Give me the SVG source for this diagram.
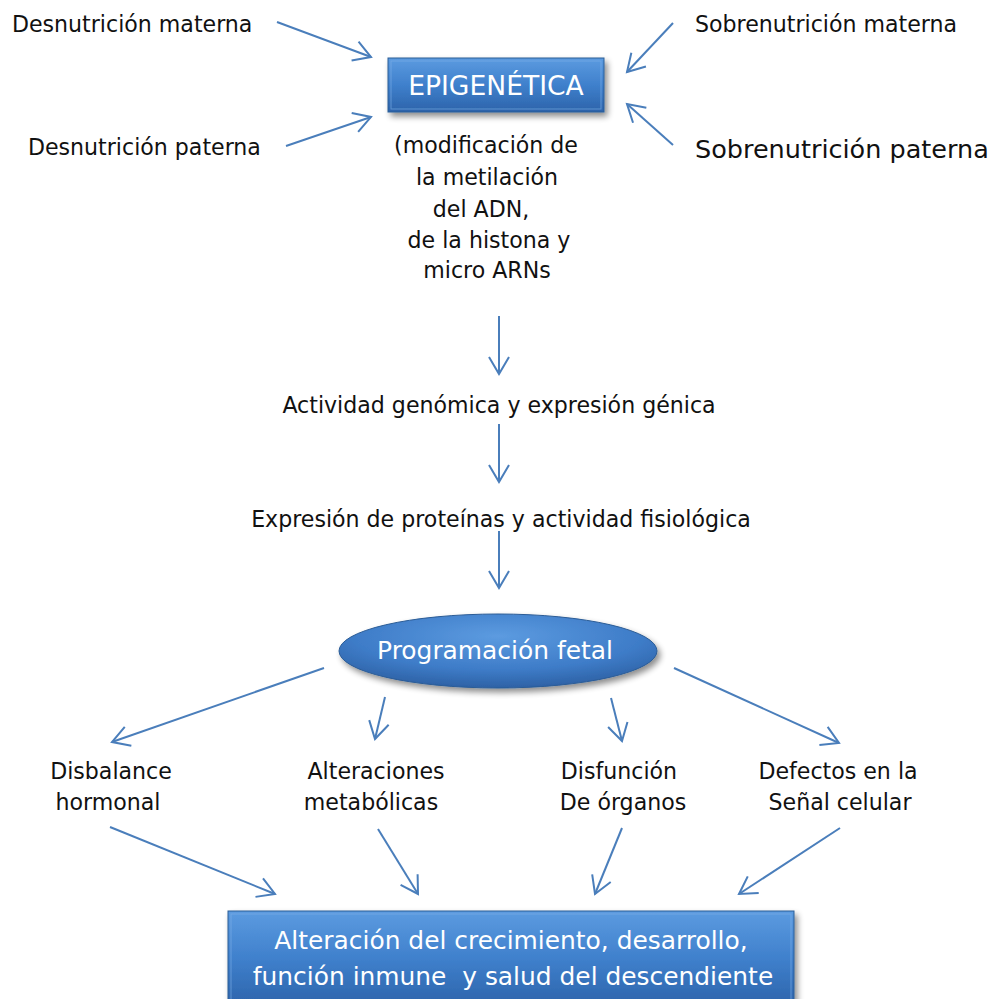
<svg xmlns="http://www.w3.org/2000/svg" width="996" height="999" viewBox="0 0 996 999">
<defs>
<style>
.t{font-family:"DejaVu Sans",sans-serif;font-size:22.1px;fill:#111;}
.w{font-family:"DejaVu Sans",sans-serif;fill:#fff;}
.c{fill:none;stroke:#4A7EBB;stroke-width:2;marker-end:url(#ah);}
</style>
<linearGradient id="g" x1="0" y1="0" x2="0" y2="1">
<stop offset="0" stop-color="#5C9BE0"/>
<stop offset="0.5" stop-color="#3F80CC"/>
<stop offset="1" stop-color="#2C63AA"/>
</linearGradient>
<radialGradient id="ge" cx="0.5" cy="0.3" r="0.75">
<stop offset="0" stop-color="#5C9BE0"/>
<stop offset="0.6" stop-color="#3E7CC8"/>
<stop offset="1" stop-color="#2A5C9E"/>
</radialGradient>
<filter id="sh" x="-10%" y="-20%" width="125%" height="150%">
<feGaussianBlur in="SourceAlpha" stdDeviation="3"/>
<feOffset dx="3" dy="4"/>
<feComponentTransfer><feFuncA type="linear" slope="0.45"/></feComponentTransfer>
<feMerge><feMergeNode/><feMergeNode in="SourceGraphic"/></feMerge>
</filter>
<marker id="ah" markerUnits="userSpaceOnUse" markerWidth="30" markerHeight="30" refX="0" refY="0" viewBox="-20 -15 25 30" orient="auto">
<path d="M-17,-10 L0,0 L-17,10" fill="none" stroke="#4A7EBB" stroke-width="2"/>
</marker>
</defs>
<rect width="996" height="999" fill="#fff"/>

<g id="desnutricion-materna"><text class="t" x="12" y="32">Desnutrición materna</text></g>
<g id="sobrenutricion-materna"><text class="t" x="695" y="32">Sobrenutrición materna</text></g>
<g id="desnutricion-paterna"><text class="t" x="28" y="155">Desnutrición paterna</text></g>
<g id="sobrenutricion-paterna"><text class="t" x="695" y="158" style="font-size:25.5px">Sobrenutrición paterna</text></g>

<g id="epigenetica">
<rect x="388" y="58" width="216" height="54" fill="url(#g)" stroke="#2B5C96" stroke-width="1" filter="url(#sh)"/>
<rect x="391" y="61" width="210" height="48" fill="none" stroke="#7FB0E8" stroke-width="1" opacity="0.6"/>
<text class="w" x="496" y="95" text-anchor="middle" font-size="26.6">EPIGENÉTICA</text>
</g>

<g id="modificacion">
<text class="t" x="486" y="153" text-anchor="middle">(modificación de</text>
<text class="t" x="487" y="185" text-anchor="middle">la metilación</text>
<text class="t" x="481" y="217" text-anchor="middle">del ADN,</text>
<text class="t" x="489" y="248" text-anchor="middle">de la histona y</text>
<text class="t" x="487" y="278" text-anchor="middle">micro ARNs</text>
</g>

<g id="actividad-genomica"><text class="t" x="499" y="413" text-anchor="middle">Actividad genómica y expresión génica</text></g>
<g id="expresion-proteinas"><text class="t" x="501" y="527" text-anchor="middle">Expresión de proteínas y actividad fisiológica</text></g>

<g id="programacion-fetal">
<ellipse cx="498" cy="651" rx="159" ry="37" fill="url(#ge)" stroke="#2B5C96" stroke-width="1" filter="url(#sh)"/>
<text class="w" x="495" y="659" text-anchor="middle" font-size="24.9">Programación fetal</text>
</g>

<g id="disbalance">
<text class="t" x="111" y="779" text-anchor="middle">Disbalance</text>
<text class="t" x="108" y="810" text-anchor="middle">hormonal</text>
</g>
<g id="alteraciones">
<text class="t" x="376" y="779" text-anchor="middle">Alteraciones</text>
<text class="t" x="371" y="810" text-anchor="middle">metabólicas</text>
</g>
<g id="disfuncion">
<text class="t" x="619" y="779" text-anchor="middle">Disfunción</text>
<text class="t" x="623" y="810" text-anchor="middle">De órganos</text>
</g>
<g id="defectos">
<text class="t" x="838" y="779" text-anchor="middle">Defectos en la</text>
<text class="t" x="840" y="810" text-anchor="middle">Señal celular</text>
</g>

<g id="alteracion-crecimiento">
<rect x="228" y="911" width="566" height="96" fill="url(#g)" stroke="#2B5C96" stroke-width="1" filter="url(#sh)"/>
<rect x="231" y="914" width="560" height="90" fill="none" stroke="#7FB0E8" stroke-width="1" opacity="0.6"/>
<text class="w" x="511" y="949" text-anchor="middle" font-size="24.9">Alteración del crecimiento, desarrollo,</text>
<text class="w" x="513" y="985" text-anchor="middle" font-size="24.9" xml:space="preserve">función inmune  y salud del descendiente</text>
</g>

<g id="connectors">
<path class="c" d="M277,22 L371,57"/>
<path class="c" d="M286,146 L371,117"/>
<path class="c" d="M673,23 L627,72"/>
<path class="c" d="M673,145 L627,104"/>
<path class="c" d="M499,316 L499,374"/>
<path class="c" d="M499,424 L499,482"/>
<path class="c" d="M499,531 L499,588"/>
<path class="c" d="M324,668 L112,742"/>
<path class="c" d="M385,697 L375,739"/>
<path class="c" d="M611,698 L622,741"/>
<path class="c" d="M674,668 L839,743"/>
<path class="c" d="M110,827 L275,894"/>
<path class="c" d="M378,829 L418,894"/>
<path class="c" d="M622,828 L595,894"/>
<path class="c" d="M840,828 L739,894"/>
</g>
</svg>
